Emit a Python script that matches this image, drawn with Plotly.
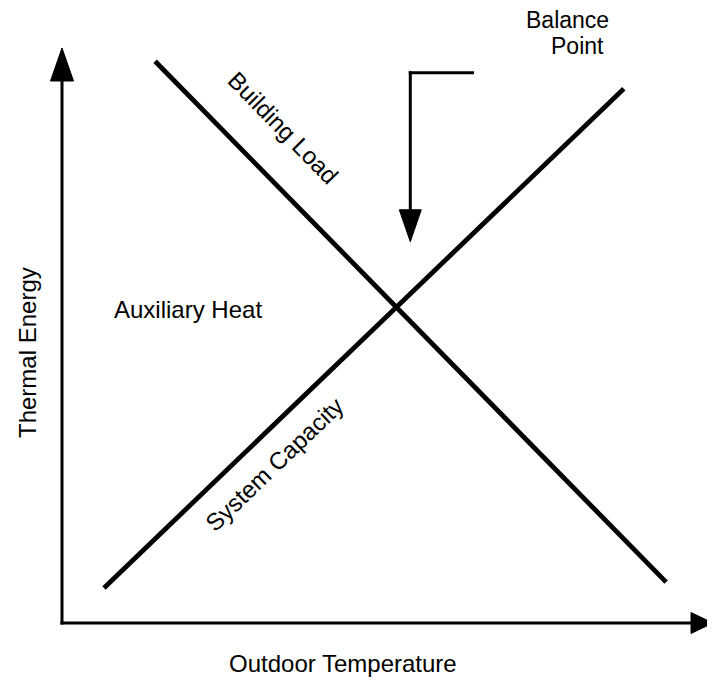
import plotly.graph_objects as go

# ---- data (arbitrary units: outdoor temperature 0-100, thermal energy 0-100) ----
load_temperature = [14.3, 92.8]
building_load = [97.7, 7.1]
capacity_temperature = [6.45, 86.3]
system_capacity = [6.1, 92.9]
balance_temperature = 53.5
balance_label_level = 95.7
balance_leader_end = 63.3
balance_arrow_tip = 66.3

# page has an 8px body margin, so the figure is drawn 8px in from the window edge
OFF = 8
W, H = 715 - OFF, 678 - OFF
# pixel positions (window coords) of the axis origin and arrow tips
ORIGIN_PX, ORIGIN_PY = 62, 623
XTIP_PX, YTIP_PY = 713, 48
sx = (XTIP_PX - ORIGIN_PX) / 100.0
sy = (ORIGIN_PY - YTIP_PY) / 100.0
x_lo = -(ORIGIN_PX - OFF) / sx
x_hi = x_lo + W / sx
y_hi = 100 + (YTIP_PY - OFF) / sy
y_lo = y_hi - H / sy


def to_data(px, py):
    return x_lo + (px - OFF) / sx, y_hi - (py - OFF) / sy


FONT = "Liberation Sans, Arial, Helvetica, sans-serif"
BLACK = "#000000"

fig = go.Figure()

fig.add_trace(go.Scatter(x=load_temperature, y=building_load, mode="lines",
                         line=dict(color=BLACK, width=4.8), name="Building Load",
                         hoverinfo="skip"))
fig.add_trace(go.Scatter(x=capacity_temperature, y=system_capacity, mode="lines",
                         line=dict(color=BLACK, width=4.8), name="System Capacity",
                         hoverinfo="skip"))

shapes = []


def head(tip_x, tip_y, direction, length_px, half_w_px):
    if direction in ("up", "down"):
        sgn = -1 if direction == "up" else 1
        by = tip_y + sgn * length_px / sy
        dx = half_w_px / sx
        return f"M {tip_x},{tip_y} L {tip_x - dx},{by} L {tip_x + dx},{by} Z", (tip_x, by)
    bx = tip_x - length_px / sx
    dy = half_w_px / sy
    return f"M {tip_x},{tip_y} L {bx},{tip_y - dy} L {bx},{tip_y + dy} Z", (bx, tip_y)


# y axis with arrow
p, base = head(0, 100, "up", 33, 11.5)
shapes.append(dict(type="line", x0=0, y0=0 - 1.5 / sy, x1=base[0], y1=base[1] + 0.5,
                   line=dict(color=BLACK, width=3)))
shapes.append(dict(type="path", path=p, fillcolor=BLACK, line=dict(color=BLACK, width=1)))
# x axis with arrow
p, base = head(100, 0, "right", 22, 10.5)
shapes.append(dict(type="line", x0=0 - 1.5 / sx, y0=0, x1=base[0] + 0.5, y1=base[1],
                   line=dict(color=BLACK, width=3)))
shapes.append(dict(type="path", path=p, fillcolor=BLACK, line=dict(color=BLACK, width=1)))
# balance point leader
p, base = head(balance_temperature, balance_arrow_tip, "down", 32, 11)
shapes.append(dict(type="line", x0=balance_leader_end, y0=balance_label_level,
                   x1=balance_temperature - 1.5 / sx, y1=balance_label_level,
                   line=dict(color=BLACK, width=3)))
shapes.append(dict(type="line", x0=balance_temperature, y0=balance_label_level + 1.5 / sy,
                   x1=base[0], y1=base[1] - 0.3,
                   line=dict(color=BLACK, width=3)))
shapes.append(dict(type="path", path=p, fillcolor=BLACK, line=dict(color=BLACK, width=1)))

for s in shapes:
    s["xref"] = "x"
    s["yref"] = "y"
    s["layer"] = "above"

ann = []


def add_text(text, px, py, angle=0, size=24, pad=1):
    x, y = to_data(px, py)
    ann.append(dict(text=text, x=x, y=y, xref="x", yref="y",
                    xanchor="center", yanchor="middle", showarrow=False,
                    textangle=angle, borderpad=pad,
                    font=dict(family=FONT, size=size, color=BLACK)))


add_text("Building Load", 283, 127, 45.6)
add_text("System Capacity", 274, 464, -43.8)
add_text("Auxiliary Heat", 188, 309)
add_text("Thermal Energy", 27, 353, -90)
add_text("Outdoor Temperature", 343, 663, pad=0)
add_text("Balance", 567, 20, size=23, pad=0)
add_text("Point", 577, 46, size=23, pad=0)

fig.update_layout(
    width=W, height=H,
    margin=dict(l=0, r=0, t=0, b=0, pad=0),
    paper_bgcolor="white", plot_bgcolor="white",
    showlegend=False,
    xaxis=dict(range=[x_lo, x_hi], visible=False, fixedrange=True),
    yaxis=dict(range=[y_lo, y_hi], visible=False, fixedrange=True),
    shapes=shapes, annotations=ann,
)

fig.write_html("out.html")
